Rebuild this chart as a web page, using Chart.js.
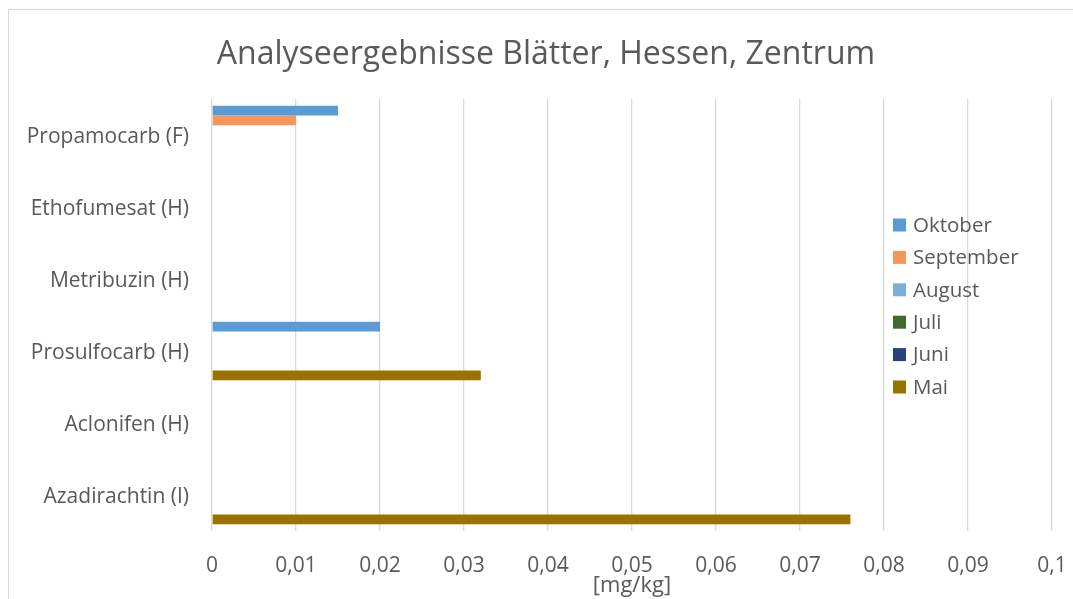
<!DOCTYPE html>
<html>
<head>
<meta charset="utf-8">
<script src="https://cdn.jsdelivr.net/npm/chart.js@4"></script>
<style>
  html, body { margin: 0; padding: 0; background: #fff; }
  #wrap { position: relative; width: 1073px; height: 599px; overflow: hidden; }
  #frame { position: absolute; left: 8px; top: 9px; width: 1100px; height: 650px;
           border-left: 1px solid #d9d9d9; border-top: 1px solid #d9d9d9; }
  #myChart { position: absolute; left: 0; top: 0; }
</style>
</head>
<body>
<div id="wrap">
  <div id="frame"></div>
  <canvas id="myChart" width="1073" height="599"></canvas>
</div>
<script>
// data
var categories = ["Propamocarb (F)", "Ethofumesat (H)", "Metribuzin (H)", "Prosulfocarb (H)", "Aclonifen (H)", "Azadirachtin (I)"];
var oktober   = [0.015, null, null, 0.02, null, null];
var september = [0.01, null, null, null, null, null];
var august    = [null, null, null, null, null, null];
var juli      = [null, null, null, null, null, null];
var juni      = [null, null, null, null, null, null];
var mai       = [null, null, null, 0.032, null, 0.076];
var xTickLabels = ["0", "0,01", "0,02", "0,03", "0,04", "0,05", "0,06", "0,07", "0,08", "0,09", "0,1"];
var chartTitle = "Analyseergebnisse Blätter, Hessen, Zentrum";

var fontName = "'Open Sans', 'Noto Sans', sans-serif";
var grey = "#595959";

// title and legend drawn by hand, placed like in the excel chart
var overlayLegend = {
	id: "overlayLegend",
	afterDraw: function(chart) {
		var ctx = chart.ctx;
		ctx.save();
		ctx.fillStyle = grey;
		ctx.textBaseline = "middle";
		ctx.textAlign = "center";
		ctx.font = "32px " + fontName;
		ctx.fillText(chartTitle, 546, 55);

		var x = 893, y = 225, step = 32.4;
		ctx.font = "20.5px " + fontName;
		ctx.textAlign = "left";
		chart.data.datasets.forEach(function(ds, i) {
			var cy = y + i * step;
			ctx.fillStyle = ds.backgroundColor;
			ctx.fillRect(x, cy - 6.5, 13, 13);
			ctx.fillStyle = grey;
			ctx.fillText(ds.label, x + 20, cy + 1);
		});
		ctx.restore();
	}
};

new Chart("myChart", {
	type: "bar",
	data: {
		labels: categories,
		datasets: [
			{ label: "Oktober",   data: oktober,   backgroundColor: "#5B9BD5" },
			{ label: "September", data: september, backgroundColor: "#F4975B" },
			{ label: "August",    data: august,    backgroundColor: "#7DADDD" },
			{ label: "Juli",      data: juli,      backgroundColor: "#43682B" },
			{ label: "Juni",      data: juni,      backgroundColor: "#264478" },
			{ label: "Mai",       data: mai,       backgroundColor: "#997300" }
		]
	},
	options: {
		indexAxis: "y",
		responsive: false,
		animation: false,
		datasets: { bar: { barPercentage: 1, categoryPercentage: 0.81, borderWidth: 0 } },
		layout: { padding: { left: 0, right: 21, top: 99, bottom: 0 } },
		plugins: {
			legend: { display: false },
			tooltip: { enabled: false },
			title: { display: false }
		},
		scales: {
			x: {
				min: 0,
				max: 0.1,
				ticks: {
					stepSize: 0.01,
					color: grey,
					padding: 3,
					maxRotation: 0,
					font: { family: fontName, size: 21 },
					callback: function(value, index) { return xTickLabels[index]; }
				},
				grid: { color: "#d9d9d9", lineWidth: 1.3, drawTicks: true, tickLength: 19, tickColor: "rgba(0,0,0,0)" },
				border: { display: false },
				title: {
					display: true,
					text: "[mg/kg]",
					color: grey,
					font: { family: fontName, size: 22, lineHeight: 1.1 },
					padding: { top: 1, bottom: 1 }
				},
				afterFit: function(scale) { scale.height = 68; }
			},
			y: {
				ticks: {
					color: grey,
					padding: 23,
					labelOffset: 2,
					font: { family: fontName, size: 21 }
				},
				grid: { display: false, drawTicks: false },
				border: { display: false },
				afterFit: function(scale) { scale.width = 212; }
			}
		}
	},
	plugins: [overlayLegend]
});
</script>
</body>
</html>
